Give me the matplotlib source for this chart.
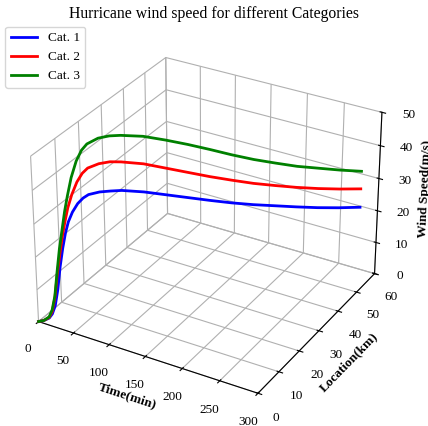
import numpy as np
import matplotlib
matplotlib.use('Agg')
import matplotlib.pyplot as plt

plt.rcParams['font.family'] = ['Liberation Serif', 'DejaVu Serif']

# time (min) and storm track position (km)
time_min = [0, 5, 10, 13, 16, 19, 22, 25, 28, 31, 35, 40, 45, 50, 60, 70, 80,
            100, 120, 140, 160, 180, 200, 220, 240, 260, 280, 300]
location_km = [0, 0.83, 1.67, 2.17, 2.67, 3.17, 3.67, 4.17, 4.67, 5.17, 5.83,
               6.67, 7.5, 8.33, 10, 11.67, 13.33, 16.67, 20, 23.33, 26.67, 30,
               33.33, 36.67, 40, 43.33, 46.67, 50]

# wind speed (m/s)
cat1 = [0, 0.2, 0.8, 2, 4.5, 9.5, 16.5, 22, 26.5, 29.8, 32.6, 35, 36.5, 37.4,
        37.9, 37.9, 37.8, 36.8, 35.4, 34, 32.6, 31.3, 30.2, 29.3, 28.4, 27.6, 27.0, 26.6]
cat2 = [0, 0.2, 1, 2.8, 7, 14, 20, 25.5, 30, 34, 37.8, 41.4, 43.8, 45.2,
        46.2, 46.5, 46.2, 45.1, 43.3, 41.5, 39.7, 38.1, 36.6, 35.4, 34.3, 33.4, 32.7, 32.2]
cat3 = [0, 0.2, 1.2, 3.3, 7.5, 15, 22, 27.5, 33, 37.5, 42.8, 47.5, 50.5, 52.2,
        53.6, 54, 53.9, 53.1, 51.5, 49.7, 47.7, 45.6, 43.7, 42.1, 40.6, 39.5, 38.4, 37.5]

categories = ['Cat. 1', 'Cat. 2', 'Cat. 3']
colors = ['blue', 'red', 'green']

fig = plt.figure(figsize=(4.28, 4.26), dpi=100)
ax = fig.add_axes([0.019, 0.019, 0.917, 0.917], projection='3d')

for vals, name, col in zip([cat1, cat2, cat3], categories, colors):
    ax.plot(time_min, location_km, vals, color=col, lw=2, label=name)

ax.set_xlim(0, 300)
ax.set_ylim(0, 60)
ax.set_zlim(0, 50)
ax.set_xlabel('Time(min)', fontweight='bold', fontsize=9.5, labelpad=-1)
ax.set_ylabel('Location(km)', fontweight='bold', fontsize=9.5, labelpad=-1)
ax.set_zlabel('Wind Speed(m/s)', fontweight='bold', fontsize=9.5, labelpad=0)
ax.tick_params(labelsize=9.5)

for axis in (ax.xaxis, ax.yaxis, ax.zaxis):
    axis.set_pane_color((1, 1, 1, 0))

fig.suptitle('Hurricane wind speed for different Categories', fontsize=11.3, y=0.985)
ax.legend(loc='upper left', bbox_to_anchor=(0.0, 0.95), bbox_transform=fig.transFigure,
          fontsize=9.6, borderaxespad=0.4)

plt.savefig('out.png', dpi=100)
